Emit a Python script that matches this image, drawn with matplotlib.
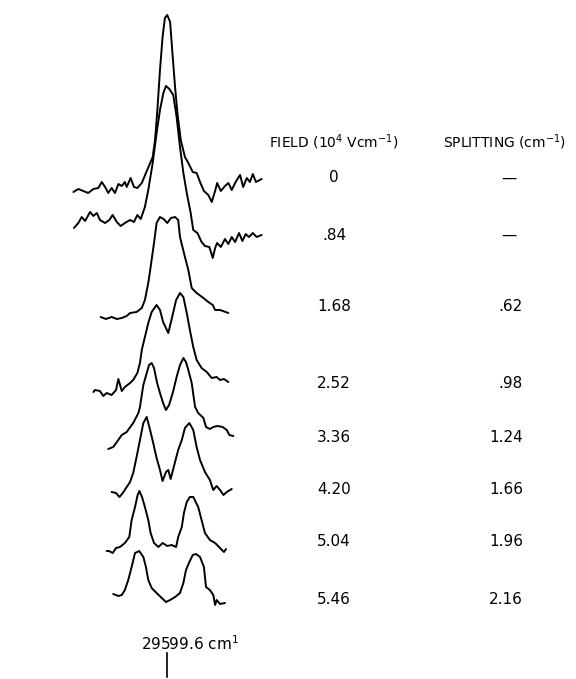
import matplotlib
matplotlib.use("Agg")
import matplotlib.pyplot as plt

# field values and measured splittings (right hand columns)
fields = ["0", ".84", "1.68", "2.52", "3.36", "4.20", "5.04", "5.46"]
splittings = ["—", "—", ".62", ".98", "1.24", "1.66", "1.96", "2.16"]

# traces: wavenumber offset from 29599.6 cm-1 and signal (arb. units)
shift_0 = [-3.60, -3.41, -3.22, -3.03, -2.83, -2.64, -2.51, -2.38, -2.26, -2.13, -2.00, -1.87, -1.74,
           -1.62, -1.55, -1.40, -1.27, -1.14, -0.97, -0.81, -0.68, -0.55, -0.46, -0.37, -0.27, -0.17,
           -0.08, 0.01, 0.12, 0.20, 0.31, 0.40, 0.53, 0.69, 0.82, 0.99, 1.14, 1.27, 1.42, 1.59, 1.72,
           1.85, 1.93, 2.07, 2.23, 2.36, 2.49, 2.64, 2.81, 2.93, 3.07, 3.19, 3.30, 3.42, 3.64]
signal_0 = [-2, 1, -1, -3, 1, 2, 8, 3, -3, 2, -3, 6, 4,
            8, 3, 12, 3, 2, 7, 17, 25, 33, 50, 80, 120, 153,
            172, 175, 168, 140, 103, 77, 50, 33, 27, 18, 17, 8, -1, -5, -12,
            -1, 7, -1, 4, 7, 0, 8, 15, 3, 12, 8, 16, 8, 11]

shift_1 = [-3.58, -3.41, -3.28, -3.15, -2.96, -2.83, -2.70, -2.58, -2.38, -2.22, -2.09, -1.93, -1.78,
           -1.62, -1.42, -1.27, -1.14, -1.01, -0.85, -0.72, -0.55, -0.40, -0.27, -0.14, -0.04, 0.09,
           0.24, 0.37, 0.50, 0.63, 0.76, 0.91, 1.01, 1.17, 1.33, 1.46, 1.63, 1.76, 1.85, 1.93, 2.07,
           2.23, 2.36, 2.49, 2.62, 2.77, 2.90, 3.03, 3.15, 3.30, 3.45, 3.64]
signal_1 = [-6, -1, 5, 1, 10, 6, 9, 2, -1, 2, 7, 0, -4,
            -1, 2, 0, 7, 3, 15, 32, 59, 89, 112, 129, 136, 133,
            127, 105, 75, 49, 29, 9, -8, -11, -20, -24, -25, -36, -26, -21, -25,
            -17, -22, -15, -20, -11, -19, -12, -15, -11, -15, -13]

shift_2 = [-2.55, -2.35, -2.13, -1.93, -1.74, -1.55, -1.42, -1.17, -0.97, -0.85, -0.72, -0.63, -0.50,
           -0.40, -0.27, -0.13, 0.01, 0.15, 0.31, 0.43, 0.50, 0.69, 0.82, 0.95, 1.14, 1.40, 1.59,
           1.76, 1.85, 2.04, 2.36]
signal_2 = [-1, -3, -1, -3, -2, 0, 3, 4, 8, 16, 33, 49, 73,
            93, 99, 97, 93, 98, 99, 96, 79, 59, 46, 28, 23, 18, 14,
            11, 6, 6, 3]

shift_3 = [-2.83, -2.77, -2.58, -2.45, -2.32, -2.13, -1.96, -1.87, -1.74, -1.62, -1.42, -1.30, -1.14,
           -1.04, -0.97, -0.85, -0.72, -0.59, -0.40, -0.27, -0.15, 0.05, 0.19, 0.35, 0.50, 0.63,
           0.76, 0.88, 1.01, 1.14, 1.33, 1.53, 1.72, 1.91, 2.04, 2.19, 2.36]
signal_3 = [0, 2, 1, -4, -1, -3, 2, 13, 1, 5, 9, 12, 19,
            29, 42, 55, 69, 80, 87, 82, 70, 59, 74, 92, 99, 95,
            79, 62, 45, 32, 24, 20, 14, 15, 12, 13, 10]

shift_4 = [-2.26, -2.07, -1.93, -1.74, -1.55, -1.30, -1.10, -1.04, -0.97, -0.91, -0.78, -0.69, -0.59,
           -0.50, -0.38, -0.27, -0.15, -0.04, 0.08, 0.23, 0.38, 0.50, 0.63, 0.73, 0.82, 0.95, 1.08,
           1.20, 1.40, 1.50, 1.65, 1.78, 1.93, 2.14, 2.30, 2.40, 2.55]
signal_4 = [0, 2, 7, 14, 17, 26, 36, 42, 54, 64, 76, 84, 86,
            81, 66, 56, 46, 39, 44, 57, 73, 84, 91, 87, 79, 66, 42,
            36, 31, 22, 20, 22, 23, 22, 19, 14, 13]

shift_5 = [-2.13, -1.96, -1.83, -1.70, -1.55, -1.42, -1.30, -1.17, -1.04, -0.91, -0.78, -0.65, -0.53,
           -0.40, -0.27, -0.17, -0.04, 0.05, 0.14, 0.31, 0.43, 0.57, 0.69, 0.86, 1.01, 1.14, 1.27,
           1.46, 1.65, 1.78, 1.91, 2.04, 2.17, 2.30, 2.49]
signal_5 = [0, -1, -5, -1, 5, 10, 19, 35, 52, 69, 75, 62, 49,
            34, 22, 11, 20, 22, 13, 30, 42, 52, 64, 69, 62, 45, 32,
            20, 12, 2, 6, 2, -3, 0, 3]

shift_6 = [-2.32, -2.23, -2.09, -1.96, -1.81, -1.62, -1.45, -1.36, -1.23, -1.13, -1.06, -0.96, -0.85,
           -0.72, -0.63, -0.50, -0.33, -0.17, 0.01, 0.18, 0.35, 0.43, 0.57, 0.65, 0.76, 0.88, 1.01,
           1.20, 1.33, 1.46, 1.65, 1.85, 2.04, 2.19, 2.27]
signal_6 = [-1, -1, -3, 2, 3, 7, 13, 30, 43, 55, 59, 53, 43,
            30, 17, 7, 3, 7, 4, 5, 3, 13, 23, 37, 48, 53, 53,
            43, 30, 17, 10, 7, 2, -2, 1]

shift_7 = [-2.07, -1.87, -1.74, -1.62, -1.49, -1.36, -1.23, -1.07, -0.91, -0.81, -0.72, -0.59, -0.40,
           -0.20, -0.04, 0.12, 0.31, 0.50, 0.63, 0.73, 0.86, 0.99, 1.12, 1.27, 1.42, 1.50, 1.65,
           1.78, 1.85, 1.91, 2.04, 2.23]
signal_7 = [1, -1, 0, 5, 15, 28, 42, 44, 38, 28, 15, 7, 2,
            -3, -7, -5, -2, 2, 12, 25, 33, 40, 41, 38, 28, 8, 5,
            0, -10, -5, -9, -8]

shifts = [shift_0, shift_1, shift_2, shift_3, shift_4, shift_5, shift_6, shift_7]
signals = [signal_0, signal_1, signal_2, signal_3, signal_4, signal_5, signal_6, signal_7]

W, H = 576, 679
PX_PER_CM = 26.0
CENTER = 167
baselines = [190, 222, 316, 392, 449, 492, 550, 595]
label_rows = [178, 235, 307, 383, 437, 490, 542, 599]

fig = plt.figure(figsize=(W / 100, H / 100), dpi=100)
ax = fig.add_axes([0, 0, 1, 1])
ax.set_xlim(-CENTER / PX_PER_CM, (W - CENTER) / PX_PER_CM)
ax.set_ylim(H, 0)
ax.set_axis_off()


def put(x, y, s, **kw):
    fig.text(x / W, 1 - y / H, s, va="center", color="black", **kw)


for x, sig, base in zip(shifts, signals, baselines):
    ax.plot(x, [base - v for v in sig], color="black", lw=1.4,
            solid_joinstyle="round", solid_capstyle="round")

put(334, 142, r"FIELD (10$^{4}$ Vcm$^{-1}$)", ha="center", fontsize=10)
put(505, 142, r"SPLITTING (cm$^{-1}$)", ha="center", fontsize=10)

for f, s, y in zip(fields, splittings, label_rows):
    put(334, y, f, ha="center", fontsize=11)
    if s == "—":
        put(509, y, s, ha="center", fontsize=11)
    else:
        put(523, y, s, ha="right", fontsize=11)

# reference line position
put(190, 644, r"29599.6 cm$^{1}$", ha="center", fontsize=11)
ax.plot([0, 0], [653, 677], color="black", lw=1.2)

fig.savefig("out.png", dpi=100)
